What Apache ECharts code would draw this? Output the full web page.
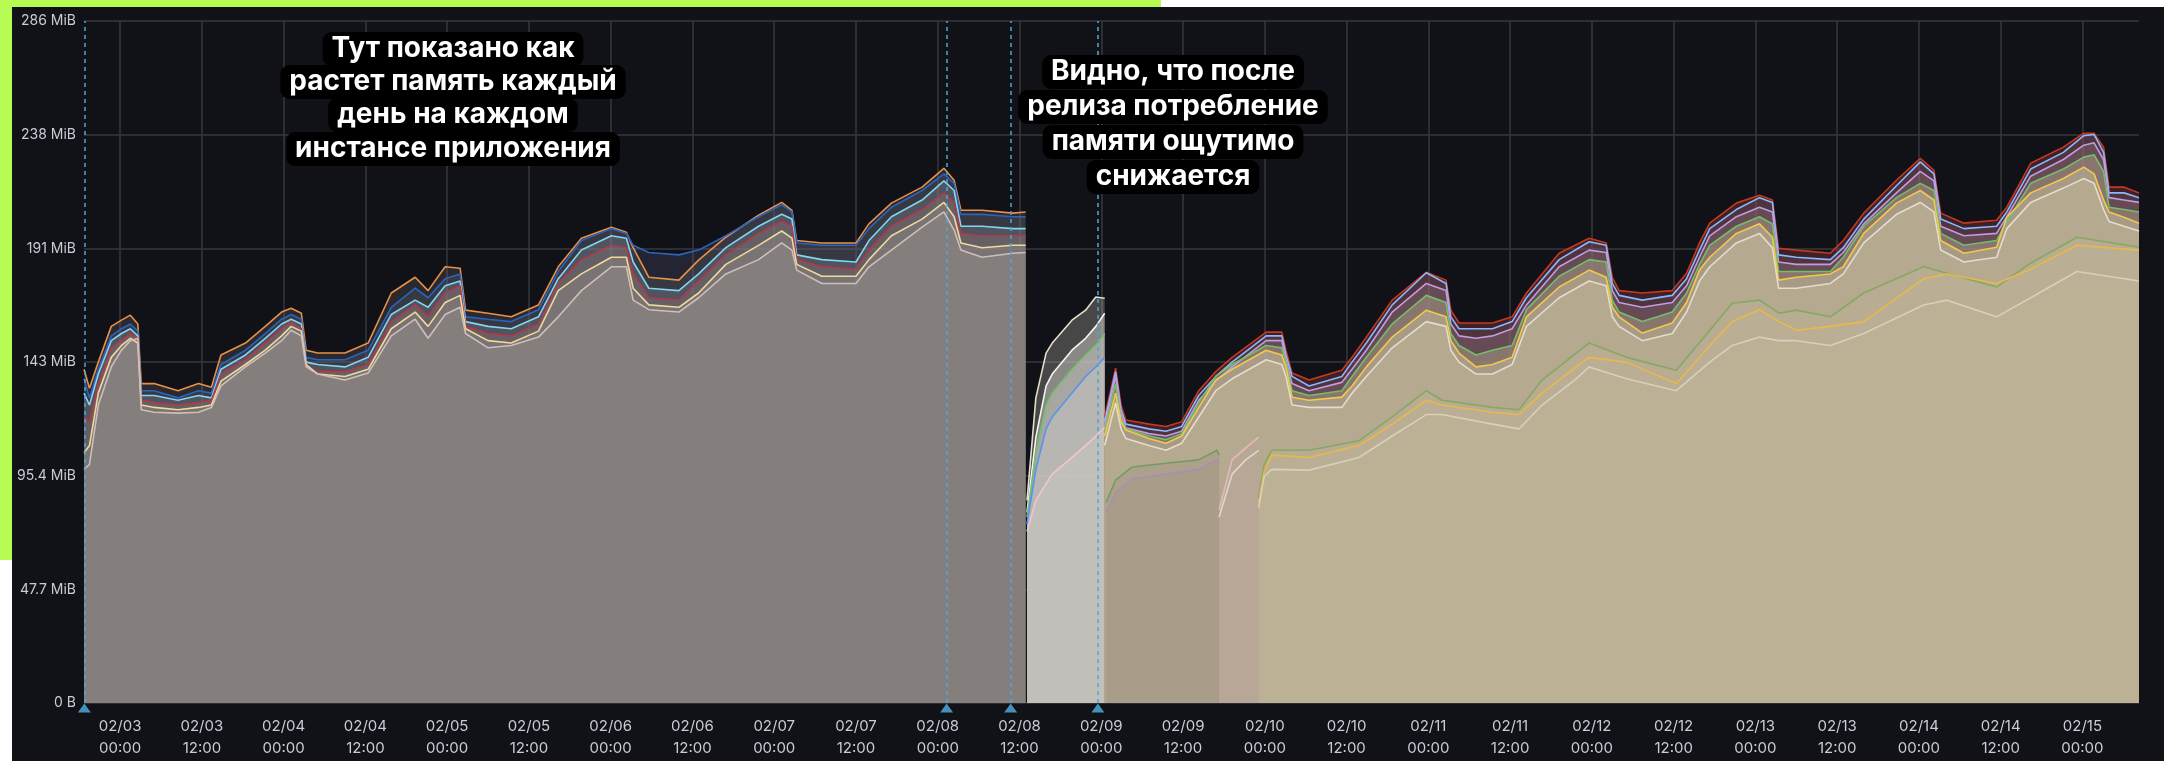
<!DOCTYPE html>
<html>
<head>
<meta charset="utf-8">
<script src="https://cdn.jsdelivr.net/npm/echarts@6/dist/echarts.min.js"></script>
<style>
html, body { margin: 0; padding: 0; background: #fff; }
#wrap { position: relative; width: 2164px; height: 761px; overflow: hidden; background: #fff; }
#limeTop { position: absolute; left: 0; top: 0; width: 1161px; height: 7px; background: #b6fc52; }
#limeLeft { position: absolute; left: 0; top: 0; width: 12px; height: 560px; background: #b6fc52; }
#panel { position: absolute; left: 12px; top: 7px; right: 0; bottom: 0; background: #111217; }
#chart { position: absolute; left: 0; top: 0; width: 2164px; height: 761px; }
</style>
</head>
<body>
<div id="wrap">
  <div id="limeTop"></div>
  <div id="limeLeft"></div>
  <div id="panel"></div>
  <div id="chart"></div>
</div>
<script>
// hours are counted from 02/03 00:00, values are in MiB
const xTickHours = [0, 12, 24, 36, 48, 60, 72, 84, 96, 108, 120, 132, 144, 156, 168, 180, 192, 204, 216, 228, 240, 252, 264, 276, 288];
const xTickLabels = ['02/03\n00:00', '02/03\n12:00', '02/04\n00:00', '02/04\n12:00', '02/05\n00:00', '02/05\n12:00',
  '02/06\n00:00', '02/06\n12:00', '02/07\n00:00', '02/07\n12:00', '02/08\n00:00', '02/08\n12:00',
  '02/09\n00:00', '02/09\n12:00', '02/10\n00:00', '02/10\n12:00', '02/11\n00:00', '02/11\n12:00',
  '02/12\n00:00', '02/12\n12:00', '02/13\n00:00', '02/13\n12:00', '02/14\n00:00', '02/14\n12:00', '02/15\n00:00'];
const yTickLabels = ['0 B', '47.7 MiB', '95.4 MiB', '143 MiB', '191 MiB', '238 MiB', '286 MiB'];
const annotHours = [-5.25, 121.3, 130.7, 143.5];

// old release
const oldHours = [-5.3, -4.5, -3.2, -1.3, 0.2, 1.5, 2.6, 3.1, 5, 8.5, 11.5, 13.4, 14.8, 18.4, 21.3, 23.7, 25.1, 26.6, 27.3, 29, 33, 36.4, 39.8, 43.3, 45.2, 47.7, 49.9, 50.7, 54, 57.4, 61.4, 64.3, 67.7, 72.1, 74.3, 75.3, 77.6, 82, 84.9, 88.9, 93.7, 97.1, 98.6, 99.3, 103, 108, 109.9, 113.2, 117.7, 120.9, 122.4, 123.4, 126.5, 131, 132.9];
const oldTop = [140, 132, 143, 158, 160.6, 162.7, 159, 134, 134, 131, 134, 132.5, 146, 151, 158, 164, 165.6, 163.5, 148, 146.8, 146.8, 151, 172, 178.6, 173, 183, 182.4, 164.8, 163.5, 162, 167, 183, 195, 199.6, 197.5, 191, 178.6, 177.4, 185.8, 195.4, 204.6, 210, 206.7, 194, 193, 193, 201, 209.7, 216.4, 224.3, 219.3, 206.7, 206.7, 205.5, 206];
const oldBlue = [136, 128, 140, 154, 157, 159, 156, 131, 131, 128, 131, 130, 142, 148, 155, 161, 163, 161, 145, 144, 144, 148, 166, 174, 170, 178, 180, 162, 161, 160, 165, 181, 194, 199, 197, 192, 189, 188, 190, 196, 204, 209, 206, 193, 192, 192, 199, 208, 215, 222, 218, 205, 205, 204, 204];
const oldCyan = [130, 125, 138, 152, 155, 157, 154, 129, 129, 127, 129, 128, 140, 146, 153, 159, 161, 159, 143, 142, 141, 145, 163, 169, 166, 175, 177, 160, 158, 157, 162, 178, 190, 196, 195, 185, 174, 173, 180, 191, 200, 205, 203, 188, 186, 185, 194, 204, 211, 219, 215, 200, 200, 199, 199];
const oldRed = [120, 118, 134, 149, 152, 155, 153, 127, 126, 125, 126, 127, 138, 144, 151, 157, 160, 157, 141, 139, 139, 142, 160, 167, 162, 172, 175, 158, 155, 154, 159, 176, 186, 192, 191, 180, 170, 169, 177, 188, 197, 202, 200, 186, 183, 182, 190, 200, 207, 214, 210, 197, 196, 196, 196];
const oldCream = [105, 108, 130, 145, 150, 153, 151, 125, 124, 123, 124, 125, 135, 142, 148, 154, 158, 156, 142, 138, 137, 140, 157, 164, 158, 168, 171, 157, 152, 151, 156, 173, 180, 187, 187, 174, 167, 166, 172, 184, 192, 198, 195, 184, 179, 179, 186, 196, 203, 210, 204, 193, 191, 192, 192];
const oldLow = [98, 100, 125, 141, 148, 152, 153, 123, 122, 121.6, 122, 124, 133, 141, 146.8, 152, 156.4, 154, 141, 138, 135.5, 138.4, 154, 161, 153, 163, 166, 155, 149, 150, 153.5, 162, 173, 183, 183, 169, 165, 164, 170, 180, 186, 193, 190, 181.6, 176, 176, 183, 190, 199.6, 206, 198.4, 190, 187, 188.7, 189];

// first pods of the new release
const aHours = [133.1, 134.4, 135.9, 136.8, 139.7, 141.7, 143.2, 144.5];
const aCream = [85, 128, 146.8, 151, 160.6, 164.8, 170.3, 169.8];
const aWhite = [80, 111.5, 133, 138, 148, 153, 158, 163.5];
const aGreen = [78, 105, 125, 130, 140, 146, 150, 155];
const aBlue = [75, 98, 115, 120, 130, 137, 141, 145];
const aPink = [72, 85, 92, 96, 103, 108, 112, 115.7];

// new release, main band
const bHours = [144.5, 146.1, 146.9, 147.6, 151.0, 153.5, 155.8, 158.3, 160.8, 163.2, 168.2, 170.5, 171.1, 172.0, 174.5, 179.3, 180.8, 182.9, 186.7, 191.7, 194.6, 195.3, 196.5, 199.0, 201.4, 204.3, 206.4, 211.2, 215.6, 218.1, 219.0, 220.0, 223.4, 227.8, 229.9, 231.8, 233.3, 237.2, 240.6, 242.5, 243.4, 246.0, 251.0, 252.9, 255.9, 260.7, 264.2, 266.2, 267.2, 270.6, 275.4, 276.9, 280.4, 285.2, 288.2, 289.7, 291.1, 291.9, 294.1, 296.3];
const bRed = [120, 140.5, 125, 118.7, 117, 116, 118, 131, 139, 145, 155.6, 155.6, 148, 138.4, 135.5, 139.6, 145, 153.5, 169, 180.7, 177.4, 164.8, 159.4, 159.4, 159.4, 162, 172, 188.7, 195, 193, 178.6, 173, 172, 173, 180.3, 193, 201.3, 209.7, 213, 211, 190.8, 190, 188.7, 194, 205.5, 219.3, 228.5, 223.5, 205.5, 201.3, 202.5, 208, 226.4, 233.2, 239, 239, 233.2, 216.4, 216.4, 214];
const bBlue = [118, 139, 123, 117, 115, 114, 116, 129, 137, 143, 154, 154, 146, 137, 133, 137, 143, 151, 167, 180.5, 176, 162, 157, 157, 157, 160, 170, 186, 193.5, 192, 176, 171, 169, 171, 178, 190, 199, 207, 212, 210, 188, 187, 186, 191, 203, 217, 227, 222, 203, 199, 200, 206, 224, 231, 238, 238.5, 231, 214, 214, 212];
const bPurple = [116, 137, 121, 115.5, 113, 112, 114, 127, 135, 141, 152, 152, 144, 134, 131, 134.5, 140, 148, 164, 176, 173, 159, 154, 153, 154, 157, 167, 183, 190, 189, 173, 168, 166, 168, 175, 187, 196, 204, 208, 206, 185, 184, 184, 189, 201, 214, 223, 219, 200, 196, 197, 204, 221, 228, 234, 235, 228, 212, 211, 210];
const bGreen = [114, 134, 119, 115, 112, 110.5, 113, 126, 137, 142, 150, 149, 143, 131, 129, 131, 137, 145, 159, 171, 168, 155, 150, 146, 148, 150, 165, 179, 186, 185, 169, 164, 160, 164, 172, 184, 192, 200, 204, 201, 181, 181, 181, 187, 200, 212, 218, 215, 197, 192, 194, 202, 218, 224, 229, 230, 223, 208, 207, 206];
const bYellow = [112, 130, 118, 114.5, 111, 109, 112, 124, 135.5, 140, 148, 146, 141, 128.3, 127, 128.3, 133, 141, 153.5, 164.8, 162, 152, 146.8, 141, 142, 145, 162, 174.5, 181.6, 178.6, 166, 162, 155.2, 159.4, 168, 181.6, 187, 197, 201, 195.4, 177.4, 178.6, 180, 183, 197, 209.7, 215, 211, 194, 188.7, 191.2, 203.8, 214, 220, 224.8, 222, 211, 206, 203.8, 201.3];
const bPale = [108, 126, 115, 111, 108, 106, 109, 120, 131, 136, 144, 142, 137, 125, 124, 124, 130, 137, 149, 160, 158, 148, 143, 138, 138, 142, 158, 170, 177, 175, 162, 158, 152, 155, 164, 177, 183, 193, 197, 191, 174, 174, 176, 180, 193, 205, 210, 206, 190, 185, 187, 199, 210, 216, 220, 218, 207, 202, 200, 198];

// new release, lower pods
const cHours = [144.7, 146.1, 148.5, 153.5, 158.3, 161.0, 161.3];
const cGreen = [84, 93.5, 99, 100.6, 102, 106, 104];
const cPurple = [80, 88, 94, 96, 98, 102, 101];
const dHours = [161.3, 163.2, 165.2, 167.1];
const dPink = [81, 102, 107, 111.5];
const dPale = [78, 96, 102, 106];
const eHours = [167.1, 167.9, 169.0, 174.5, 181.8, 186.7, 191.7, 194.0, 201.4, 205.3, 208.7, 213.7, 215.6, 221.1, 228.4, 233.3, 236.6, 240.6, 243.5, 246.0, 251.0, 255.9, 264.7, 268.1, 275.4, 280.4, 287.2, 296.3];
const eGreen = [86, 100, 106, 106, 110, 120, 131, 127, 124, 123, 135.5, 146.8, 151, 145, 139.6, 156.4, 167.7, 169, 163.5, 164.8, 162, 172, 183, 180.3, 174.5, 184.5, 195.4, 191.2];
const eYellow = [84, 97, 104, 103, 108, 117, 127, 125, 122, 121, 130, 141, 145, 143, 134, 150, 160, 165, 160, 156.4, 158, 160, 178, 180, 176, 182, 192, 190];
const ePale = [82, 95, 98, 97.7, 103, 112, 121, 121, 117, 115, 125, 136, 141, 136, 131, 143, 150, 153.5, 152, 152, 150, 155, 167, 169, 162, 170, 181, 177];

const note1 = ['Тут показано как', 'растет память каждый', 'день на каждом', 'инстансе приложения'];
const note2 = ['Видно, что после', 'релиза потребление', 'памяти ощутимо', 'снижается'];

const MiB = 1048576;

function line(name, hours, vals, color, area) {
    return {
        name: name,
        type: 'line',
        symbol: 'none',
        showSymbol: false,
        animation: false,
        silent: true,
        lineStyle: { color: color, width: 1.6 },
        itemStyle: { color: color },
        areaStyle: { color: area, opacity: 1 },
        data: hours.map((h, i) => [h, vals[i] * MiB])
    };
}

function noteText(lines, cx, ys) {
    return lines.map((t, i) => ({
        type: 'text',
        x: cx,
        y: ys[i],
        z: 100,
        silent: true,
        style: {
            text: t,
            fill: '#fff',
            font: 'bold 28px Inter, Roboto, sans-serif',
            align: 'center',
            verticalAlign: 'middle',
            textAlign: 'center',
            textVerticalAlign: 'middle',
            backgroundColor: '#000',
            padding: [3, 9],
            borderRadius: 9
        }
    }));
}

const chart = echarts.init(document.getElementById('chart'), null, { renderer: 'canvas' });

const series = [
    line('old-1', oldHours, oldTop, '#e8904a', 'rgba(120,110,110,0.25)'),
    line('old-2', oldHours, oldBlue, '#2a64c0', 'rgba(90,100,130,0.25)'),
    line('old-3', oldHours, oldCyan, '#86d4f0', 'rgba(140,150,160,0.3)'),
    line('old-4', oldHours, oldRed, '#b03a4a', 'rgba(140,120,120,0.35)'),
    line('old-5', oldHours, oldCream, '#f2d89a', 'rgba(150,140,130,0.45)'),
    line('old-6', oldHours, oldLow, '#cdbfbc', 'rgba(140,134,132,0.6)'),

    line('a-1', aHours, aCream, '#e8dccb', 'rgba(200,195,185,0.3)'),
    line('a-2', aHours, aWhite, '#f4f4f4', 'rgba(220,218,210,0.45)'),
    line('a-3', aHours, aGreen, '#73bf69', 'rgba(205,205,195,0.45)'),
    line('a-4', aHours, aBlue, '#5794f2', 'rgba(200,200,195,0.5)'),
    line('a-5', aHours, aPink, '#f2c6cf', 'rgba(200,198,190,0.6)'),

    line('b-1', bHours, bRed, '#c8381f', 'rgba(150,60,70,0.35)'),
    line('b-2', bHours, bBlue, '#8ab8ff', 'rgba(120,100,120,0.3)'),
    line('b-3', bHours, bPurple, '#c39be0', 'rgba(150,120,130,0.35)'),
    line('b-4', bHours, bGreen, '#73bf69', 'rgba(180,170,145,0.45)'),
    line('b-5', bHours, bYellow, '#f2c94c', 'rgba(195,185,155,0.55)'),
    line('b-6', bHours, bPale, '#e6dccc', 'rgba(190,180,152,0.6)'),

    line('c-1', cHours, cGreen, '#6e9e60', 'rgba(160,145,132,0.35)'),
    line('c-2', cHours, cPurple, '#a58fb8', 'rgba(160,145,132,0.35)'),
    line('d-1', dHours, dPink, '#e8b8c0', 'rgba(190,165,160,0.3)'),
    line('d-2', dHours, dPale, '#e0d6ca', 'rgba(190,165,160,0.3)'),
    line('e-1', eHours, eGreen, '#86a862', 'rgba(192,182,152,0.3)'),
    line('e-2', eHours, eYellow, '#e8b94a', 'rgba(192,182,152,0.3)'),
    line('e-3', eHours, ePale, '#d8d0bc', 'rgba(192,182,152,0.3)'),

    {
        name: 'annotations',
        type: 'scatter',
        silent: true,
        animation: false,
        clip: false,
        z: 10,
        symbol: 'triangle',
        symbolSize: [13, 9],
        symbolOffset: [0, 5],
        itemStyle: { color: '#4fb3e6' },
        data: annotHours.map(h => [h, 0]),
        markLine: {
            silent: true,
            symbol: 'none',
            animation: false,
            label: { show: false },
            lineStyle: { color: '#4fa6d8', type: [4, 4], width: 1.5 },
            data: annotHours.map(h => ({ xAxis: h }))
        }
    }
];

chart.setOption({
    backgroundColor: 'transparent',
    animation: false,
    grid: { left: 84, right: 25, top: 21, bottom: 58 },
    xAxis: {
        type: 'value',
        min: -5.3,
        max: 296.3,
        axisLine: { show: false },
        axisTick: { show: false, customValues: xTickHours },
        axisLabel: {
            customValues: xTickHours,
            formatter: function (v) {
                const i = xTickHours.indexOf(Math.round(v));
                return i >= 0 ? xTickLabels[i] : '';
            },
            color: '#c7ccd5',
            fontSize: 15,
            lineHeight: 22,
            margin: 12,
            fontFamily: 'Inter, Roboto, sans-serif'
        },
        splitLine: { show: true, lineStyle: { color: '#37383e', width: 1.5 } }
    },
    yAxis: {
        type: 'value',
        min: 0,
        max: 300000000,
        interval: 50000000,
        axisLine: { show: false },
        axisTick: { show: false },
        axisLabel: {
            formatter: function (v) { return yTickLabels[Math.round(v / 50000000)]; },
            color: '#c7ccd5',
            fontSize: 14,
            margin: 8,
            fontFamily: 'Inter, Roboto, sans-serif'
        },
        splitLine: { show: true, lineStyle: { color: '#37383e', width: 1.5 } }
    },
    graphic: noteText(note1, 453, [49, 82, 115, 149]).concat(noteText(note2, 1173, [72, 107, 142, 177])),
    series: series
});
</script>
</body>
</html>
